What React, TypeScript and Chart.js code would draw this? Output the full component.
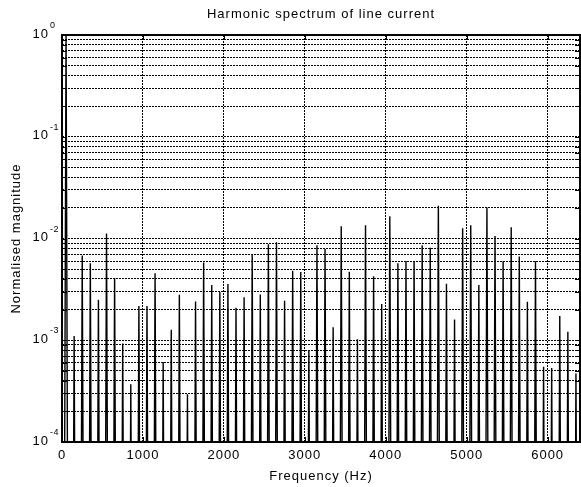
import { useEffect, useRef } from "react";
import { Chart, registerables } from "chart.js";

Chart.register(...registerables);

// Harmonic spectrum data: fundamental at 50 Hz and its odd harmonics
const FUNDAMENTAL_HZ = 50;
const HARMONIC_ORDERS = [
  1, 3, 5, 7, 9, 11, 13, 15, 17, 19, 21, 23, 25, 27, 29, 31,
  33, 35, 37, 39, 41, 43, 45, 47, 49, 51, 53, 55, 57, 59, 61, 63,
  65, 67, 69, 71, 73, 75, 77, 79, 81, 83, 85, 87, 89, 91, 93, 95,
  97, 99, 101, 103, 105, 107, 109, 111, 113, 115, 117, 119, 121, 123, 125, 127,
];
const MAGNITUDES = [
  1.0, 1.1e-3, 6.8e-3, 5.7e-3, 2.5e-3, 1.12e-2, 4.1e-3, 9.3e-4,
  3.7e-4, 2.17e-3, 2.17e-3, 4.55e-3, 6.1e-4, 1.27e-3, 2.8e-3, 2.95e-4,
  2.4e-3, 5.8e-3, 3.5e-3, 2.98e-3, 3.57e-3, 2.09e-3, 2.65e-3, 7.0e-3,
  2.82e-3, 8.8e-3, 9.2e-3, 2.44e-3, 4.83e-3, 4.69e-3, 7.96e-4, 8.6e-3,
  7.9e-3, 1.34e-3, 1.32e-2, 4.72e-3, 1.02e-3, 1.35e-2, 4.25e-3, 2.27e-3,
  1.65e-2, 5.71e-3, 6.0e-3, 6.0e-3, 8.6e-3, 8.09e-3, 2.1e-2, 3.6e-3,
  1.6e-3, 1.26e-2, 1.35e-2, 3.49e-3, 2.02e-2, 1.06e-2, 5.97e-3, 1.29e-2,
  6.64e-3, 2.39e-3, 5.97e-3, 5.5e-4, 5.33e-4, 1.73e-3, 1.21e-3, 4.7e-4,
];
// Magnitude of the bins between harmonics (far below the plotted range)
const NOISE_FLOOR = 1e-12;

const X_MAX = 6400;
const X_TICKS = [0, 1000, 2000, 3000, 4000, 5000, 6000];
const Y_DECADES = [-4, -3, -2, -1, 0];
const Y_MANTISSAS = [1, 2, 3, 4, 5, 6, 7, 8, 9];

const TITLE = "Harmonic spectrum of line current";
const X_LABEL = "Frequency (Hz)";
const Y_LABEL = "Normalised magnitude";

const FONT = "'Liberation Sans', Arial, Helvetica, sans-serif";

function buildSpectrum() {
  const pts: { x: number; y: number }[] = [{ x: 0, y: NOISE_FLOOR }];
  HARMONIC_ORDERS.forEach((h, i) => {
    pts.push({ x: h * FUNDAMENTAL_HZ, y: MAGNITUDES[i] });
    pts.push({ x: (h + 1) * FUNDAMENTAL_HZ, y: NOISE_FLOOR });
  });
  return pts;
}

const isDecade = (v: number) => {
  const l = Math.log10(v);
  return Math.abs(l - Math.round(l)) < 1e-9;
};

// Frame, inward tick marks, power-of-ten labels and title
const framePlugin = {
  id: "frame",
  beforeUpdate(chart: any) {
    chart.ctx.letterSpacing = "1px";
  },
  beforeDraw(chart: any) {
    chart.ctx.letterSpacing = "1px";
  },
  afterDraw(chart: any) {
    const { ctx, chartArea: a, scales } = chart;
    const xs = scales.x;
    const ys = scales.y;
    ctx.save();
    ctx.strokeStyle = "#000";
    ctx.fillStyle = "#000";
    ctx.lineWidth = 1;
    ctx.setLineDash([]);

    const tickLen = 5;
    ctx.beginPath();
    for (const t of ys.ticks) {
      const py = Math.round(ys.getPixelForValue(t.value)) + 0.5;
      ctx.moveTo(a.left, py);
      ctx.lineTo(a.left + tickLen, py);
      ctx.moveTo(a.right, py);
      ctx.lineTo(a.right - tickLen, py);
    }
    for (const t of xs.ticks) {
      const px = Math.round(xs.getPixelForValue(t.value)) + 0.5;
      ctx.moveTo(px, a.top);
      ctx.lineTo(px, a.top + tickLen);
      ctx.moveTo(px, a.bottom);
      ctx.lineTo(px, a.bottom - tickLen);
    }
    ctx.stroke();

    ctx.lineWidth = 2;
    ctx.strokeRect(a.left, a.top, a.right - a.left, a.bottom - a.top);

    // y labels: 10 with superscript exponent
    for (const t of ys.ticks) {
      if (!isDecade(t.value)) continue;
      const exp = Math.round(Math.log10(t.value));
      const py = ys.getPixelForValue(t.value);
      ctx.letterSpacing = "1px";
      ctx.font = `13px ${FONT}`;
      ctx.textAlign = "right";
      ctx.textBaseline = "middle";
      ctx.fillText("10", a.left - 13, py - 1);
      ctx.font = `9px ${FONT}`;
      ctx.letterSpacing = "0.5px";
      ctx.textAlign = "left";
      ctx.textBaseline = "alphabetic";
      ctx.fillText(String(exp), a.left - 12, py - 7);
    }

    // title
    ctx.letterSpacing = "1px";
    ctx.font = `13px ${FONT}`;
    ctx.textAlign = "center";
    ctx.textBaseline = "alphabetic";
    ctx.fillText(TITLE, (a.left + a.right) / 2, 18);
    ctx.restore();
  },
};

export default function App() {
  const canvasRef = useRef<HTMLCanvasElement | null>(null);

  useEffect(() => {
    const canvas = canvasRef.current;
    if (!canvas) return;
    const chart = new Chart(canvas, {
      type: "line",
      data: {
        datasets: [
          {
            data: buildSpectrum(),
            borderColor: "#000",
            borderWidth: 1.4,
            pointRadius: 0,
            tension: 0,
            fill: false,
          },
        ],
      },
      options: {
        animation: false,
        responsive: false,
        devicePixelRatio: 1,
        layout: { padding: { top: 35, right: 1, left: 0, bottom: 0 } },
        plugins: {
          legend: { display: false },
          tooltip: { enabled: false },
          title: { display: false },
        },
        scales: {
          x: {
            type: "linear",
            min: 0,
            max: X_MAX,
            afterBuildTicks: (s: any) => {
              s.ticks = X_TICKS.map((v) => ({ value: v }));
            },
            afterFit: (s: any) => {
              s.height = 45;
            },
            grid: { color: "#000", lineWidth: 1, drawTicks: false },
            border: { display: false, dash: [2, 1] },
            ticks: {
              color: "#000",
              font: { family: FONT, size: 13 },
              padding: 6,
              maxRotation: 0,
              autoSkip: false,
              callback: (v: any) => String(v),
            },
            title: {
              display: true,
              text: X_LABEL,
              color: "#000",
              font: { family: FONT, size: 13 },
              padding: { top: 0, bottom: 3 },
            },
          },
          y: {
            type: "logarithmic",
            min: 1e-4,
            max: 1,
            afterBuildTicks: (s: any) => {
              const ticks: { value: number }[] = [];
              for (const e of Y_DECADES) {
                for (const m of Y_MANTISSAS) {
                  if (e === 0 && m > 1) break;
                  ticks.push({ value: m * Math.pow(10, e) });
                }
              }
              s.ticks = ticks;
            },
            afterFit: (s: any) => {
              s.width = 62;
            },
            grid: { color: "#000", lineWidth: 1, drawTicks: false },
            border: { display: false, dash: [2, 1] },
            ticks: {
              autoSkip: false,
              callback: () => "",
            },
            title: {
              display: true,
              text: Y_LABEL,
              color: "#000",
              font: { family: FONT, size: 13 },
              padding: { top: 8.5, bottom: 0 },
            },
          },
        },
      },
      plugins: [framePlugin],
    });
    return () => chart.destroy();
  }, []);

  return (
    <div style={{ position: "fixed", left: 0, top: 0, width: 581, height: 487, background: "#fff" }}>
      <canvas ref={canvasRef} width={581} height={487} />
    </div>
  );
}
